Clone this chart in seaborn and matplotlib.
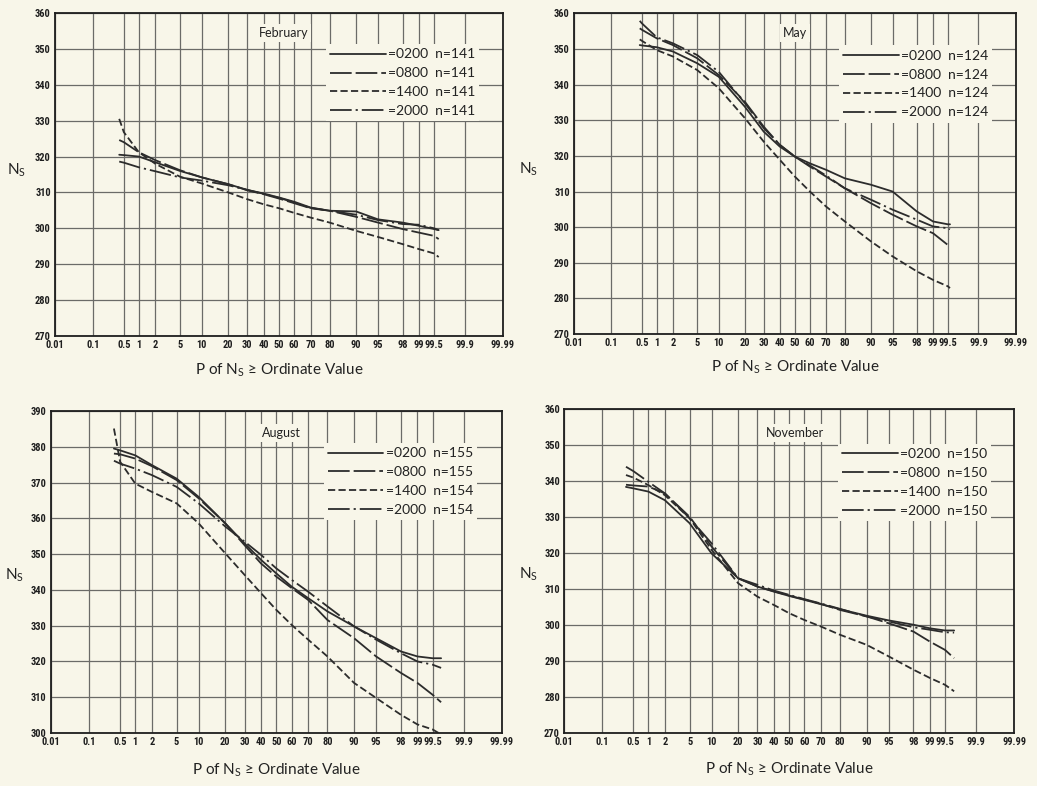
"""
Cumulative probability plots of surface refractivity N_s by hour, four months
"""

import numpy as np
import pandas as pd
import matplotlib
matplotlib.use("Agg")
import matplotlib.pyplot as plt
from matplotlib import font_manager
import seaborn as sns
from statistics import NormalDist

sns.set_theme(style="white")
plt.rcParams['font.family'] = ['Lato', 'DejaVu Sans']

BG = '#f8f6e9'
INK = '#2c2c2c'
GRID = '#6b6b68'

# narrow face for the crowded tick labels, if one is installed
installed = {f.name for f in font_manager.fontManager.ttflist}
narrow = [n for n in ['Liberation Sans Narrow', 'DejaVu Sans Condensed', 'Noto Sans Condensed',
                      'Roboto Condensed', 'Open Sans Condensed'] if n in installed]
TICK_FONT = narrow[:1] + ['DejaVu Sans']
TICK_SIZE = 7.5 if narrow else 6.5

# probability axis
prob_ticks = [0.01, 0.1, 0.5, 1, 2, 5, 10, 20, 30, 40, 50, 60, 70, 80, 90, 95, 98, 99, 99.5, 99.9, 99.99]
prob_labels = ['0.01', '0.1', '0.5', '1', '2', '5', '10', '20', '30', '40', '50', '60', '70',
               '80', '90', '95', '98', '99', '99.5', '99.9', '99.99']

hours = ['0200', '0800', '1400', '2000']

# February
feb_p = [0.4, 0.5, 1, 2, 5, 10, 20, 30, 40, 50, 60, 70, 80, 90, 95, 98, 99, 99.5, 99.6]
feb_n = [141, 141, 141, 141]
feb_0200 = [320.5, 320.4, 320.0, 318.4, 316.0, 314.2, 312.3, 310.7, 309.7, 308.6, 307.4, 305.8, 304.9, 304.7, 302.5, 301.6, 300.7, 299.8, 299.5]
feb_0800 = [324.6, 324.0, 321.2, 319.0, 316.2, 314.2, 312.3, 310.6, 309.5, 308.3, 307.0, 305.6, 304.9, 303.2, 301.6, 299.8, 298.8, 297.9, 297.0]
feb_1400 = [330.5, 326.8, 321.2, 318.0, 314.4, 312.5, 310.0, 308.1, 306.7, 305.6, 304.3, 303.0, 301.6, 299.3, 297.6, 295.6, 294.2, 293.0, 292.0]
feb_2000 = [318.6, 318.3, 317.0, 315.9, 314.2, 313.3, 312.0, 310.7, 309.6, 308.5, 307.2, 305.7, 304.9, 303.8, 302.3, 301.2, 301.0, 300.0, 299.5]

# May
may_p = [0.45, 0.5, 1, 2, 5, 10, 20, 30, 40, 50, 60, 70, 80, 90, 95, 98, 99, 99.5, 99.55]
may_n = [124, 124, 124, 124]
may_0200 = [351.1, 351.0, 350.5, 349.3, 346.0, 342.2, 333.8, 326.8, 322.6, 319.8, 317.9, 316.1, 313.7, 311.9, 310.0, 304.4, 301.6, 300.8, 300.8]
may_0800 = [355.8, 355.4, 353.0, 351.1, 347.4, 342.7, 335.2, 328.2, 323.1, 319.8, 317.0, 314.2, 310.9, 306.7, 303.5, 300.2, 298.3, 295.0, 294.4]
may_1400 = [352.7, 352.3, 349.7, 347.9, 344.1, 339.0, 330.6, 324.0, 318.9, 314.2, 310.0, 305.8, 301.6, 296.0, 291.8, 287.6, 285.2, 283.4, 282.9]
may_2000 = [357.9, 357.2, 353.3, 351.6, 348.3, 343.6, 334.8, 327.8, 323.1, 319.8, 317.3, 314.5, 310.9, 307.7, 304.9, 302.1, 300.2, 299.7, 299.4]

# August
aug_p = [0.37, 0.5, 1, 2, 5, 10, 20, 30, 40, 50, 60, 70, 80, 90, 95, 98, 99, 99.5, 99.67]
aug_n = [155, 155, 154, 154]
aug_0200 = [379.5, 379.0, 377.6, 374.9, 371.1, 366.0, 358.6, 353.0, 348.4, 344.6, 340.9, 337.7, 334.0, 329.8, 326.5, 322.8, 321.4, 320.9, 320.9]
aug_0800 = [378.1, 377.9, 376.7, 374.6, 370.7, 365.6, 358.6, 352.5, 347.4, 343.7, 340.5, 337.2, 331.6, 326.5, 321.4, 316.8, 314.0, 310.7, 308.6]
aug_1400 = [385.1, 375.8, 369.7, 367.4, 364.2, 358.6, 350.2, 344.2, 339.1, 334.4, 330.2, 326.1, 321.4, 314.0, 309.8, 305.1, 302.4, 301.0, 299.6]
aug_2000 = [376.1, 375.3, 373.9, 372.1, 368.8, 364.2, 357.7, 353.5, 349.8, 346.0, 342.8, 339.5, 335.4, 329.8, 326.1, 322.3, 320.0, 319.1, 318.2]

# November
nov_p = [0.35, 0.5, 1, 2, 5, 10, 20, 30, 40, 50, 60, 70, 80, 90, 95, 98, 99, 99.5, 99.68]
nov_n = [150, 150, 150, 150]
nov_0200 = [338.4, 338.0, 337.1, 334.7, 328.3, 319.9, 313.0, 310.7, 309.3, 308.1, 307.0, 305.8, 304.4, 302.6, 301.3, 300.1, 299.1, 298.5, 298.5]
nov_0800 = [339.0, 338.8, 338.5, 336.6, 330.1, 321.8, 313.0, 310.7, 309.4, 308.2, 307.1, 305.9, 304.2, 302.4, 300.5, 298.2, 295.4, 293.1, 290.8]
nov_1400 = [341.7, 341.0, 338.9, 336.1, 329.7, 320.9, 311.6, 307.9, 305.6, 303.3, 301.4, 299.6, 297.3, 294.5, 291.3, 287.6, 285.3, 283.4, 281.6]
nov_2000 = [344.0, 342.8, 339.8, 336.6, 329.7, 322.7, 313.0, 311.2, 309.6, 308.4, 307.2, 306.0, 304.5, 302.4, 301.0, 299.4, 298.7, 298.0, 297.9]

panels = [
    ('February', feb_p, [feb_0200, feb_0800, feb_1400, feb_2000], feb_n, (270, 360)),
    ('May', may_p, [may_0200, may_0800, may_1400, may_2000], may_n, (270, 360)),
    ('August', aug_p, [aug_0200, aug_0800, aug_1400, aug_2000], aug_n, (300, 390)),
    ('November', nov_p, [nov_0200, nov_0800, nov_1400, nov_2000], nov_n, (270, 360)),
]

# axes rectangles, legend anchors, month label and axis label positions
rects = [[0.053, 0.5725, 0.432, 0.411], [0.5535, 0.575, 0.426, 0.408],
         [0.049, 0.0674, 0.435, 0.4097], [0.544, 0.0674, 0.434, 0.412]]
leg_anchor = [(0.605, 0.903), (0.600, 0.900), (0.605, 0.900), (0.609, 0.894)]
month_pos = [(0.51, 0.938), (0.50, 0.938), (0.512, 0.932), (0.513, 0.926)]
ylab_pos = [(-0.085, 0.514), (-0.104, 0.514), (-0.08, 0.49), (-0.08, 0.49)]
xlab_y = [-0.105, -0.105, -0.115, -0.113]

dash_map = {'0200': '', '0800': (12, 2.2), '1400': (4, 1.8), '2000': (12, 2.2, 1.2, 2.2)}

_nd = NormalDist()
_ppf = np.vectorize(_nd.inv_cdf, otypes=[float])
_cdf = np.vectorize(_nd.cdf, otypes=[float])


def prob_fwd(p):
    p = np.clip(np.asarray(p, dtype=float), 1e-7, 100 - 1e-7)
    return _ppf(p / 100.0)


def prob_inv(z):
    return _cdf(np.asarray(z, dtype=float)) * 100.0


fig = plt.figure(figsize=(10.37, 7.86), dpi=100, facecolor=BG)

for i, (month, p, series, nvals, ylim) in enumerate(panels):
    ax = fig.add_axes(rects[i], facecolor=BG)
    df = pd.concat([pd.DataFrame({'p': p, 'ns': vals, 'hour': h})
                    for h, vals in zip(hours, series)], ignore_index=True)
    ax.set_xscale('function', functions=(prob_fwd, prob_inv))
    sns.lineplot(data=df, x='p', y='ns', style='hour', style_order=hours, dashes=dash_map,
                 color=INK, lw=1.3, sort=False, estimator=None, legend=False, ax=ax)

    ax.set_xlim(0.01, 99.99)
    ax.set_ylim(*ylim)
    ax.set_xticks(prob_ticks)
    ax.set_xticklabels(prob_labels)
    ax.set_yticks(np.arange(ylim[0], ylim[1] + 1, 10))
    ax.grid(True, color=GRID, lw=0.9)
    ax.set_axisbelow(True)
    ax.tick_params(length=0, pad=3, labelsize=TICK_SIZE, colors='#1e1e1e')
    for lab in ax.get_xticklabels() + ax.get_yticklabels():
        lab.set_family(TICK_FONT)
        lab.set_stretch('condensed')
        lab.set_weight('bold')
    for sp in ax.spines.values():
        sp.set_color('#1e1e1e')
        sp.set_linewidth(1.3)

    ax.set_ylabel(r'$\mathregular{N_S}$', rotation=0, fontsize=11, color='#222222')
    ax.yaxis.set_label_coords(*ylab_pos[i])
    ax.yaxis.label.set_va('center')
    ax.set_xlabel(r'P of $\mathregular{N_S}$ ≥ Ordinate Value', fontsize=11, color='#222222')
    ax.xaxis.set_label_coords(0.5, xlab_y[i])
    ax.xaxis.label.set_va('center')

    ax.text(*month_pos[i], month, transform=ax.transAxes, ha='center', va='center',
            fontsize=9, color='#222222',
            bbox=dict(facecolor=BG, edgecolor='none', pad=2))

    labels = [f'={h}  n={n}' for h, n in zip(hours, nvals)]
    leg = ax.legend(ax.lines[:4], labels, loc='upper left', bbox_to_anchor=leg_anchor[i],
                    borderaxespad=0, borderpad=0.3, frameon=True, fontsize=10,
                    handlelength=4.0, handletextpad=0.15, labelspacing=0.5, fancybox=False)
    leg.get_frame().set_facecolor(BG)
    leg.get_frame().set_edgecolor('none')
    leg.get_frame().set_alpha(1)
    for t in leg.get_texts():
        t.set_color('#222222')

plt.savefig('out.png', dpi=100, facecolor=BG)
print("Saved: out.png")
